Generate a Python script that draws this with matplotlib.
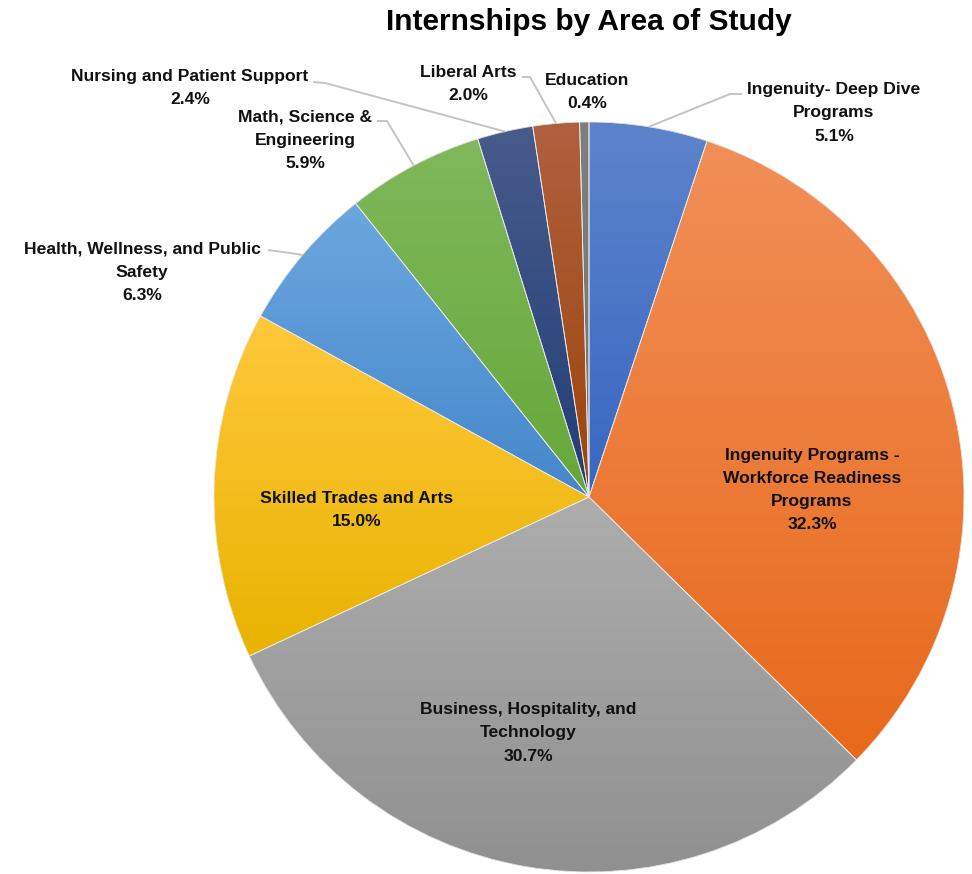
import numpy as np
import matplotlib
matplotlib.use("Agg")
import matplotlib.pyplot as plt
from matplotlib.colors import LinearSegmentedColormap
from matplotlib.patches import PathPatch

# ---------------- data ----------------
title = "Internships by Area of Study"
categories = [
    "Ingenuity- Deep Dive\nPrograms",
    "Ingenuity Programs -\nWorkforce Readiness\nPrograms",
    "Business, Hospitality, and\nTechnology",
    "Skilled Trades and Arts",
    "Health, Wellness, and Public\nSafety",
    "Math, Science &\nEngineering",
    "Nursing and Patient Support",
    "Liberal Arts",
    "Education",
]
values = [5.1, 32.3, 30.7, 15.0, 6.3, 5.9, 2.4, 2.0, 0.4]

# ---------------- style ----------------
top_colors = ["#5D84CB", "#F18F58", "#ADADAD", "#FFC83C", "#6CA7DE",
              "#80B85B", "#485B8B", "#B0603F", "#7F7F7F"]
bot_colors = ["#3867C2", "#E8691B", "#909090", "#E8B300", "#4587CB",
              "#66A739", "#213E77", "#9D440A", "#747474"]

# label placement (data coords, y up, figure pixels)
label_pos = [
    (834, 761), (812, 384), (528, 141), (357, 364), (142, 602),
    (305, 734), (190, 786), (468, 790), (587, 782),
]
# leader start (text side) + elbow, None => no leader
leader_pts = [
    [(742, 780), (730, 780)],
    None, None, None,
    [(268, 624), (290, 621)],
    [(377, 753), (387, 753)],
    [(313, 792), (325, 791)],
    [(522, 797), (530, 797)],
    None,
]

W, H = 972, 874
fig = plt.figure(figsize=(W / 100, H / 100), dpi=100)
ax = fig.add_axes([0, 0, 1, 1])

center = (589, 377)
radius = 375
wedges, _ = ax.pie(values, startangle=90, counterclock=False,
                   center=center, radius=radius,
                   wedgeprops=dict(linewidth=0))

for w, ct, cb in zip(wedges, top_colors, bot_colors):
    w.set_facecolor(cb)
    ext = w.get_path().get_extents(w.get_patch_transform())
    cmap = LinearSegmentedColormap.from_list("g", [ct, cb])
    grad = np.linspace(0, 1, 256).reshape(-1, 1)
    im = ax.imshow(grad, cmap=cmap, extent=[ext.x0, ext.x1, ext.y0, ext.y1],
                   origin="upper", aspect="auto", zorder=2,
                   interpolation="bilinear")
    im.set_clip_path(w)
    edge = PathPatch(w.get_path(), transform=w.get_transform(),
                     facecolor="none", edgecolor="#E9E9E9", linewidth=0.6,
                     zorder=3)
    ax.add_patch(edge)

font = ["Liberation Sans", "DejaVu Sans"]
for w, name, val, pos, lp in zip(wedges, categories, values, label_pos, leader_pts):
    txt = f"{name}\n{val:.1f}%"
    ax.text(pos[0], pos[1], txt, ha="center", va="center", fontsize=12.6,
            fontweight="bold", family=font, linespacing=1.68, zorder=5,
            color="#111111")
    if lp is not None:
        mid = np.deg2rad((w.theta1 + w.theta2) / 2)
        ex = center[0] + radius * np.cos(mid)
        ey = center[1] + radius * np.sin(mid)
        xs = [lp[0][0], lp[1][0], ex]
        ys = [lp[0][1], lp[1][1], ey]
        ax.plot(xs, ys, color="#C4C4C4", linewidth=1.4, zorder=4,
                solid_capstyle="butt")

ax.text(589, 852, title, ha="center", va="center", fontsize=21.5,
        fontweight="bold", family=font, color="black", zorder=5)

ax.set_xlim(0, W)
ax.set_ylim(0, H)
ax.set_aspect("auto")
ax.axis("off")
fig.savefig("out.png", dpi=100)
